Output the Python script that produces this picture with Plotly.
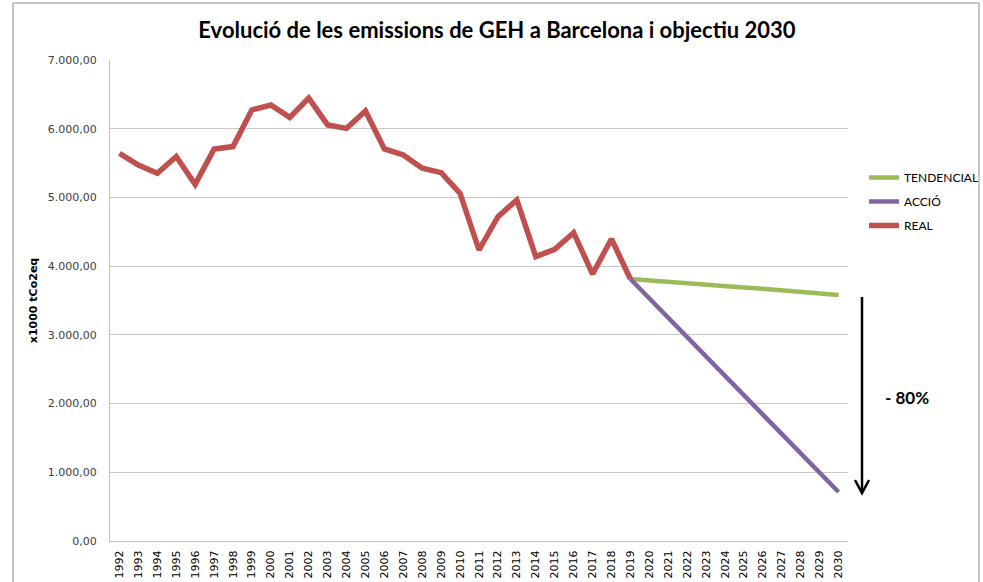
import plotly.graph_objects as go

years = [str(y) for y in range(1992, 2031)]

real_years = [str(y) for y in range(1992, 2020)]
real_values = [5640, 5470, 5350, 5595, 5190, 5705, 5740, 6275, 6345, 6165,
               6445, 6055, 6005, 6258, 5705, 5618, 5424, 5360, 5060, 4235,
               4720, 4963, 4138, 4245, 4487, 3886, 4395, 3813]

proj_years = [str(y) for y in range(2019, 2031)]
tendencial_values = [3813, 3795, 3772, 3755, 3735, 3710, 3690, 3670, 3650, 3625, 3600, 3580]
accio_values = [3813, 3531, 3249, 2968, 2686, 2404, 2122, 1840, 1559, 1277, 995, 713]

title_text = "Evolució de les emissions de GEH a Barcelona i objectiu 2030"
y_title = "x1000 tCo2eq"
reduction_label = "- 80%"

fig = go.Figure()
fig.add_trace(go.Scatter(x=proj_years, y=tendencial_values, mode="lines", name="TENDENCIAL",
                         line=dict(color="#9BBB59", width=4.5), legendgroup="t"))
fig.add_trace(go.Scatter(x=proj_years, y=accio_values, mode="lines", name="ACCIÓ",
                         line=dict(color="#8064A2", width=4.5), legendgroup="a"))
fig.add_trace(go.Scatter(x=real_years, y=real_values, mode="lines", name="REAL",
                         line=dict(color="#C0504D", width=5.5), legendgroup="r"))

L, R, T, B = 110, 135, 60, 41
W, H = 983, 582
pw, ph = W - L - R, H - T - B

def px(x):
    return (x - L) / pw

def py(y):
    return (H - B - y) / ph

fig.update_layout(
    width=W, height=H,
    margin=dict(l=L, r=R, t=T, b=B, autoexpand=False),
    paper_bgcolor="white", plot_bgcolor="white",
    separators=",.",
    title=dict(text="<b>" + title_text + "</b>", x=497 / W, xanchor="center",
               y=1 - 30 / H, yanchor="middle",
               font=dict(family="Lato, Open Sans, sans-serif", size=22, color="#000000")),
    font=dict(family="DejaVu Sans, Verdana, sans-serif", color="#404040"),
    legend=dict(x=px(864), y=py(163), xanchor="left", yanchor="top",
                font=dict(family="Lato, Open Sans, sans-serif", size=12, color="#000000"),
                itemwidth=30, tracegroupgap=5, bgcolor="rgba(0,0,0,0)"),
    showlegend=True,
)

fig.update_xaxes(type="category", categoryorder="array", categoryarray=years,
                 range=[-0.5, len(years) - 0.5], tickangle=-90, automargin=False,
                 tickfont=dict(size=11, color="#000000"),
                 showline=True, linecolor="#BFBFBF", linewidth=1,
                 showgrid=False, ticks="", ticklabelstandoff=4)
fig.update_yaxes(range=[0, 7000], dtick=1000, tickformat=",.2f", automargin=False,
                 tickfont=dict(size=11, color="#404040"),
                 showline=True, linecolor="#BFBFBF", linewidth=1,
                 showgrid=True, gridcolor="#C8C8C8", gridwidth=1,
                 zeroline=False, ticks="", ticklabelstandoff=10,
                 title=dict(text="<b>" + y_title + "</b>", standoff=7,
                            font=dict(size=11, color="#000000", family="DejaVu Sans, sans-serif")))

# outer chart border
fig.add_shape(type="rect", xref="paper", yref="paper",
              x0=px(13), x1=px(979), y0=py(600), y1=py(3),
              line=dict(color="#8C8C8C", width=1), fillcolor="rgba(0,0,0,0)", layer="below")

# reduction arrow: shaft + open chevron head
fig.add_shape(type="line", xref="paper", yref="paper",
              x0=px(862), x1=px(862), y0=py(297), y1=py(492),
              line=dict(color="#000000", width=2.5))
fig.add_shape(type="path", xref="paper", yref="paper",
              path="M {:.5f},{:.5f} L {:.5f},{:.5f} L {:.5f},{:.5f}".format(
                  px(855), py(480), px(862), py(493), px(869), py(480)),
              line=dict(color="#000000", width=2.5), fillcolor="rgba(0,0,0,0)")
fig.add_annotation(xref="paper", yref="paper", x=px(907), y=py(397),
                   xanchor="center", yanchor="middle",
                   text="<b>" + reduction_label + "</b>", showarrow=False,
                   font=dict(family="Lato, Open Sans, sans-serif", size=17, color="#000000"))

fig.write_html("out.html", config={"displayModeBar": False},
               post_script="document.body.style.margin='0';document.body.style.overflow='hidden';")
